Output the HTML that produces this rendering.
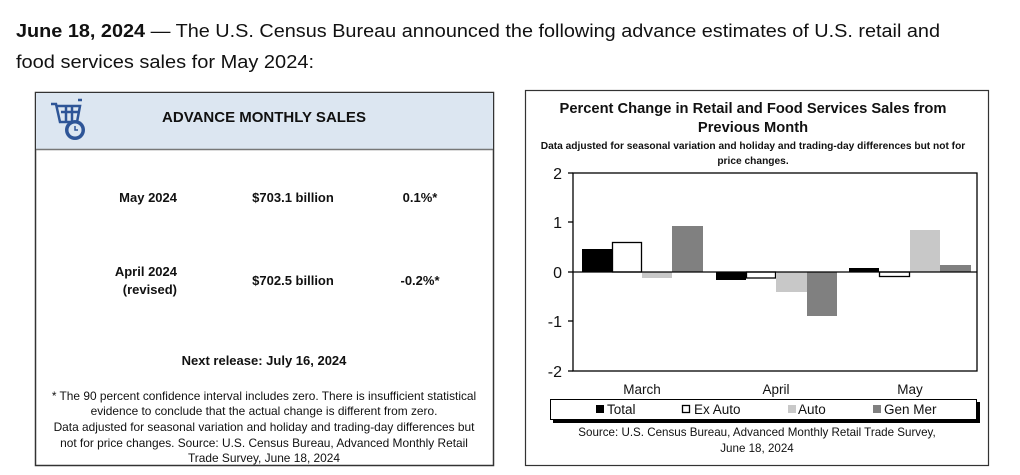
<!DOCTYPE html>
<html><head><meta charset="utf-8"><style>
html,body{margin:0;padding:0;background:#fff;width:1020px;height:475px;overflow:hidden}
svg{display:block}
text{font-family:"Liberation Sans",sans-serif;fill:#111}
</style></head><body>
<svg width="1020" height="475" viewBox="0 0 1020 475" xmlns="http://www.w3.org/2000/svg">
<text x="16" y="37" font-size="18.5" textLength="924" lengthAdjust="spacingAndGlyphs"><tspan font-weight="bold">June 18, 2024</tspan> — The U.S. Census Bureau announced the following advance estimates of U.S. retail and</text>
<text x="16" y="68" font-size="18.5" textLength="298" lengthAdjust="spacingAndGlyphs">food services sales for May 2024:</text>

<rect x="35.5" y="92.5" width="458" height="373" fill="#fff" stroke="#333" stroke-width="1.5"/>
<rect x="36" y="93" width="457" height="56" fill="#dce6f1"/>
<line x1="36" y1="149.5" x2="493" y2="149.5" stroke="#777" stroke-width="1.5"/>
<g stroke="#2e5597" fill="none" stroke-width="2.5">
<path d="M51 104 L56 104 L60 122 L77 122 L80 106 L57 106"/>
<line x1="61" y1="112" x2="79" y2="112"/>
<line x1="66" y1="106" x2="66" y2="122"/><line x1="72" y1="106" x2="72" y2="122"/>
<path d="M78 100 L82 100"/>
</g>
<circle cx="75" cy="130" r="10" fill="#2e5597"/>
<circle cx="75" cy="130" r="6.5" fill="#dce6f1"/>
<path d="M75 126 L75 130 L78 130" stroke="#2e5597" stroke-width="1.5" fill="none"/>
<text x="264" y="122" font-size="15" font-weight="bold" text-anchor="middle">ADVANCE MONTHLY SALES</text>
<g font-size="13" font-weight="bold">
<text x="177" y="202" text-anchor="end">May 2024</text>
<text x="293" y="202" text-anchor="middle">$703.1 billion</text>
<text x="420" y="202" text-anchor="middle">0.1%*</text>
<text x="177" y="276" text-anchor="end">April 2024</text>
<text x="177" y="294" text-anchor="end">(revised)</text>
<text x="293" y="285" text-anchor="middle">$702.5 billion</text>
<text x="420" y="285" text-anchor="middle">-0.2%*</text>
<text x="264" y="365" text-anchor="middle">Next release: July 16, 2024</text>
</g>
<g font-size="11.9" text-anchor="middle">
<text x="264" y="400">* The 90 percent confidence interval includes zero. There is insufficient statistical</text>
<text x="264" y="415">evidence to conclude that the actual change is different from zero.</text>
<text x="264" y="431">Data adjusted for seasonal variation and holiday and trading-day differences but</text>
<text x="264" y="447">not for price changes. Source: U.S. Census Bureau, Advanced Monthly Retail</text>
<text x="264" y="462">Trade Survey, June 18, 2024</text>
</g>

<rect x="525.5" y="90.5" width="463" height="375" fill="#fff" stroke="#333" stroke-width="1.2"/>
<g font-weight="bold" text-anchor="middle">
<text x="753" y="113" font-size="14.7">Percent Change in Retail and Food Services Sales from</text>
<text x="753" y="132" font-size="14.7">Previous Month</text>
<text x="753" y="149" font-size="10.2">Data adjusted for seasonal variation and holiday and trading-day differences but not for</text>
<text x="753" y="164" font-size="10.2">price changes.</text>
</g>
<rect x="573" y="173" width="404" height="198" fill="#fff" stroke="#000" stroke-width="1.3"/>
<g stroke="#000" stroke-width="1.3">
<line x1="568" y1="173" x2="573" y2="173"/><line x1="568" y1="222" x2="573" y2="222"/>
<line x1="568" y1="272" x2="573" y2="272"/><line x1="568" y1="321" x2="573" y2="321"/>
<line x1="568" y1="371" x2="573" y2="371"/>
</g>
<g font-size="16" text-anchor="end">
<text x="562" y="179">2</text><text x="562" y="228">1</text><text x="562" y="278">0</text>
<text x="562" y="327">-1</text><text x="562" y="377">-2</text>
</g>
<rect x="582" y="249" width="30" height="23" fill="#000"/>
<rect x="612.5" y="242.5" width="29" height="29.5" fill="#fff" stroke="#000" stroke-width="1.3"/>
<rect x="642" y="272" width="30" height="6" fill="#c8c8c8"/>
<rect x="672" y="226" width="31" height="46" fill="#808080"/>
<rect x="716" y="272" width="30" height="8" fill="#000"/>
<rect x="746.5" y="272" width="29" height="6" fill="#fff" stroke="#000" stroke-width="1.3"/>
<rect x="776" y="272" width="31" height="20" fill="#c8c8c8"/>
<rect x="807" y="272" width="30" height="44" fill="#808080"/>
<rect x="849" y="268" width="30" height="4" fill="#000"/>
<rect x="879.5" y="272" width="30" height="4.5" fill="#fff" stroke="#000" stroke-width="1.3"/>
<rect x="910" y="230" width="30" height="42" fill="#c8c8c8"/>
<rect x="940" y="265" width="31" height="7" fill="#808080"/>
<line x1="573" y1="272" x2="977" y2="272" stroke="#000" stroke-width="1.3"/>
<g font-size="13.5" text-anchor="middle">
<text x="642" y="394">March</text><text x="776" y="394">April</text><text x="910" y="394">May</text>
</g>
<rect x="553" y="402" width="427" height="21" fill="#000"/>
<rect x="550.5" y="399.5" width="426" height="20" fill="#fff" stroke="#000" stroke-width="1"/>
<rect x="596" y="405" width="8" height="8" fill="#000"/>
<rect x="682.5" y="405.5" width="7" height="7" fill="#fff" stroke="#000" stroke-width="1.3"/>
<rect x="788" y="405" width="8" height="8" fill="#c8c8c8"/>
<rect x="873" y="405" width="8" height="8" fill="#808080"/>
<g font-size="13.5">
<text x="607" y="414">Total</text><text x="694" y="414">Ex Auto</text>
<text x="798" y="414">Auto</text><text x="884" y="414">Gen Mer</text>
</g>
<g font-size="11.6" text-anchor="middle">
<text x="757" y="436">Source: U.S. Census Bureau, Advanced Monthly Retail Trade Survey,</text>
<text x="757" y="452">June 18, 2024</text>
</g>
</svg>
</body></html>
